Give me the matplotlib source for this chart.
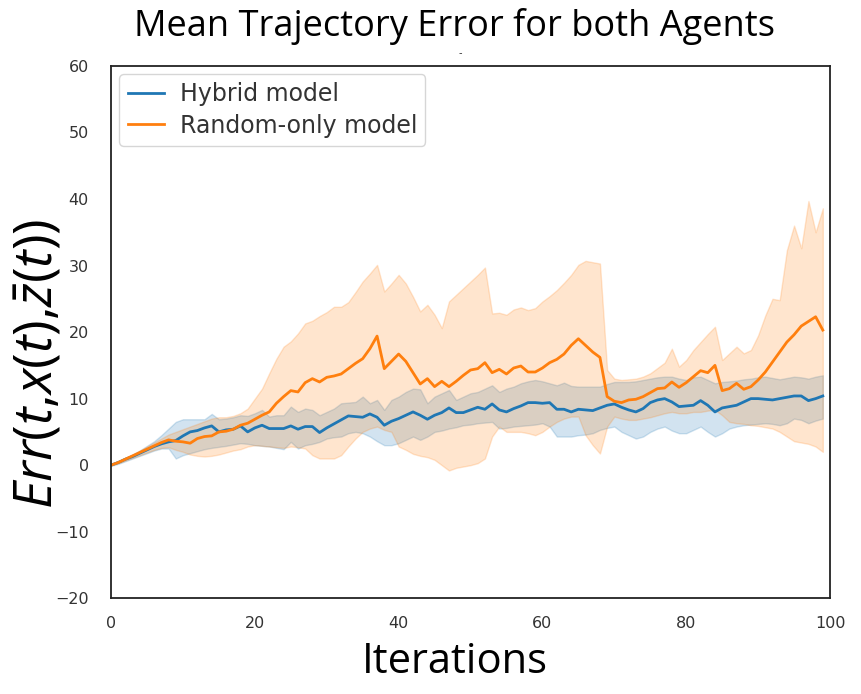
import numpy as np
import matplotlib
matplotlib.use("Agg")
import matplotlib.pyplot as plt

iterations = np.arange(100)

hybrid_mean = [0, 0.4, 0.9, 1.3, 1.8, 2.3, 2.8, 3.2, 3.5, 3.7,
               4.4, 5.0, 5.2, 5.6, 5.9, 5.0, 5.3, 5.4, 5.9, 5.0,
               5.6, 6.0, 5.5, 5.5, 5.5, 5.9, 5.4, 5.8, 5.8, 4.9,
               5.6, 6.2, 6.8, 7.4, 7.3, 7.2, 7.7, 7.2, 6.0, 6.6,
               7.0, 7.5, 8.0, 7.5, 6.9, 7.5, 7.9, 8.6, 7.9, 7.9,
               8.3, 8.7, 8.4, 9.2, 8.3, 8.0, 8.5, 8.9, 9.4, 9.4,
               9.3, 9.4, 8.4, 8.4, 8.0, 8.4, 8.3, 8.2, 8.6, 9.0,
               9.2, 8.7, 8.3, 8.0, 8.5, 9.4, 9.8, 10.0, 9.5, 8.8,
               8.9, 9.0, 9.7, 9.0, 8.0, 8.6, 8.8, 9.0, 9.5, 10.0,
               10.0, 9.9, 9.8, 10.0, 10.2, 10.4, 10.4, 9.7, 10.0, 10.4]

hybrid_upper = [0.2, 0.6, 1.1, 1.6, 2.2, 2.9, 3.6, 4.5, 5.5, 6.5,
                6.9, 6.9, 6.9, 6.9, 7.7, 6.9, 7.0, 7.2, 7.5, 7.4,
                7.8, 8.3, 7.3, 7.5, 7.5, 8.8, 8.0, 8.5, 8.3, 7.5,
                8.0, 8.5, 9.3, 9.4, 9.5, 10.3, 9.3, 9.8, 8.3, 9.8,
                10.3, 11.0, 11.5, 11.4, 9.3, 10.3, 10.8, 11.3, 9.8, 10.3,
                10.8, 11.0, 11.5, 12.0, 11.0, 11.5, 11.8, 12.3, 12.6, 12.8,
                12.6, 12.3, 12.0, 12.4, 11.9, 11.8, 11.8, 11.8, 11.8, 12.2,
                12.5, 12.5, 12.5, 12.6, 12.8, 13.0, 13.2, 13.3, 13.3, 13.0,
                12.8, 13.2, 13.3, 12.8, 12.3, 12.5, 12.6, 12.7, 12.9, 13.0,
                13.2, 13.3, 13.1, 12.9, 13.1, 13.3, 13.2, 13.0, 13.3, 13.5]

hybrid_lower = [-0.1, 0.2, 0.6, 1.0, 1.4, 1.8, 2.2, 2.5, 2.5, 1.0,
                1.5, 1.8, 2.1, 2.4, 2.6, 2.75, 2.9, 3.1, 3.3, 3.2,
                3.0, 2.9, 2.8, 2.6, 2.4, 3.5, 2.5, 3.0, 3.2, 3.5,
                4.0, 4.2, 4.3, 4.8, 5.0, 4.8, 4.3, 3.6, 3.0, 3.0,
                3.3, 3.8, 4.3, 3.8, 4.3, 5.0, 5.2, 5.5, 5.7, 6.0,
                6.1, 6.3, 6.4, 6.5, 5.5, 5.6, 5.8, 5.9, 6.0, 6.1,
                6.3, 5.8, 4.3, 4.3, 4.3, 4.5, 4.6, 4.8, 5.3, 5.6,
                5.8, 5.0, 4.5, 4.0, 4.3, 5.0, 5.5, 5.8, 5.2, 4.8,
                4.8, 5.3, 5.8, 5.0, 4.3, 4.8, 5.5, 5.8, 6.0, 6.1,
                6.2, 6.3, 6.2, 6.0, 6.3, 7.0, 6.8, 6.3, 6.7, 7.0]

random_mean = [0, 0.4, 0.9, 1.4, 1.9, 2.4, 2.9, 3.4, 3.8, 3.6,
               3.5, 3.3, 4.0, 4.3, 4.4, 5.0, 5.1, 5.4, 6.0, 6.3,
               6.9, 7.5, 8.0, 9.3, 10.3, 11.2, 11.0, 12.4, 13.0, 12.5,
               13.2, 13.4, 13.7, 14.5, 15.3, 16.0, 17.5, 19.4, 14.5, 15.6,
               16.7, 15.6, 13.9, 12.2, 13.0, 11.8, 12.6, 11.8, 12.6, 13.5,
               14.3, 14.5, 15.4, 13.9, 14.4, 13.7, 14.6, 14.9, 14.0, 14.0,
               14.6, 15.4, 15.9, 16.7, 18.0, 19.0, 18.0, 17.0, 16.2, 10.3,
               9.6, 9.4, 9.8, 9.9, 10.3, 10.9, 11.5, 11.6, 12.5, 11.7,
               12.4, 13.3, 14.2, 13.9, 15.0, 11.2, 11.5, 12.3, 11.4, 11.8,
               12.8, 14.0, 15.5, 17.0, 18.5, 19.6, 20.9, 21.6, 22.3, 20.3]

random_upper = [0.2, 0.6, 1.1, 1.6, 2.2, 2.8, 3.4, 4.0, 4.6, 5.0,
                5.4, 5.8, 6.2, 6.6, 7.0, 7.2, 7.2, 7.4, 7.8, 8.5,
                10.0, 11.5, 13.8, 16.0, 17.8, 18.6, 19.8, 21.3, 21.7, 22.4,
                23.0, 23.8, 23.8, 24.5, 26.0, 27.6, 28.8, 30.1, 26.1, 27.3,
                28.6, 27.3, 25.3, 23.1, 24.1, 22.6, 20.6, 24.6, 25.6, 26.6,
                27.6, 28.6, 29.7, 22.8, 22.9, 22.6, 23.4, 23.7, 23.3, 23.6,
                24.6, 25.4, 26.3, 27.4, 28.6, 30.1, 30.7, 30.5, 30.3, 14.3,
                13.0, 12.8, 12.9, 13.0, 13.3, 13.8, 14.6, 15.4, 17.5, 14.8,
                15.8, 17.3, 18.5, 19.7, 20.8, 15.8, 16.8, 17.8, 16.8, 17.3,
                19.5, 22.5, 25.0, 24.8, 32.3, 36.0, 32.6, 39.7, 35.0, 38.6]

random_lower = [0, 0.3, 0.7, 1.1, 1.5, 1.9, 2.3, 2.6, 2.7, 2.3,
                2.0, 1.6, 1.4, 1.3, 1.4, 1.6, 1.9, 2.2, 2.4, 2.8,
                3.0, 2.9, 2.8, 2.7, 2.6, 2.8, 2.7, 2.5, 1.5, 1.0,
                1.0, 1.0, 1.5, 2.8, 4.0, 5.0, 5.5, 5.8, 5.3, 5.0,
                2.8, 2.3, 1.7, 1.4, 1.2, 0.8, 0.0, -0.8, -0.4, -0.2,
                0.0, 0.3, 1.0, 4.3, 5.8, 5.0, 5.0, 5.0, 4.8, 4.5,
                5.0, 5.8, 6.5, 7.0, 7.3, 7.3, 4.5, 3.0, 1.75, 5.8,
                7.3, 7.0, 6.8, 6.8, 7.0, 7.2, 7.5, 7.8, 8.0, 7.8,
                7.8, 8.0, 8.0, 8.2, 8.3, 7.5, 6.5, 6.3, 6.2, 6.0,
                5.9, 5.7, 5.5, 5.0, 4.3, 3.6, 3.4, 3.2, 2.8, 2.0]

labels = ["Hybrid model", "Random-only model"]
title_text = "Mean Trajectory Error for both Agents"
xlabel_text = "Iterations"
ylabel_text = r"$Err(t{,}x(t){,}\bar{z}(t))$"

plt.rcParams['mathtext.fontset'] = 'custom'
plt.rcParams['mathtext.it'] = 'Open Sans:italic'
plt.rcParams['mathtext.rm'] = 'Open Sans'

blue = "#1f77b4"
orange = "#ff7f0e"

fig = plt.figure(figsize=(8.61, 6.94), dpi=100)
ax = fig.add_axes([0.129, 0.138, 0.835, 0.767])

ax.fill_between(iterations, hybrid_lower, hybrid_upper, color=blue, alpha=0.2, linewidth=1)
ax.fill_between(iterations, random_lower, random_upper, color=orange, alpha=0.2, linewidth=1)
ax.plot(iterations, hybrid_mean, color=blue, lw=2, label=labels[0])
ax.plot(iterations, random_mean, color=orange, lw=2, label=labels[1])

ax.set_xlim(0, 100)
ax.set_ylim(-20, 60)
ax.set_xticks([0, 20, 40, 60, 80, 100])
ax.set_yticks([-20, -10, 0, 10, 20, 30, 40, 50, 60])
ax.tick_params(length=0, labelsize=11.5, labelcolor="#333333")
ax.tick_params(axis="y", pad=16)
ax.tick_params(axis="x", pad=13)
for s in ax.spines.values():
    s.set_color("#222222")
    s.set_linewidth(1.3)

leg = ax.legend(loc="upper left", fontsize=17, frameon=True, fancybox=True,
                edgecolor="#cccccc", handlelength=1.55, handletextpad=0.65,
                borderpad=0.35, labelspacing=0.3, borderaxespad=0.35)
for t in leg.get_texts():
    t.set_color("#333333")

fig.text(0.528, 0.962, title_text, ha="center", va="center", fontsize=26,
         family="Open Sans", color="black")
fig.text(0.528, 0.046, xlabel_text, ha="center", va="center", fontsize=30,
         family="Open Sans", color="black")
fig.text(0.044, 0.476, ylabel_text, ha="center", va="center", fontsize=38,
         rotation=90, color="black")
fig.text(0.534, 0.923, "-", ha="center", va="center", fontsize=7, color="#333333")

fig.savefig("out.png", dpi=100)
